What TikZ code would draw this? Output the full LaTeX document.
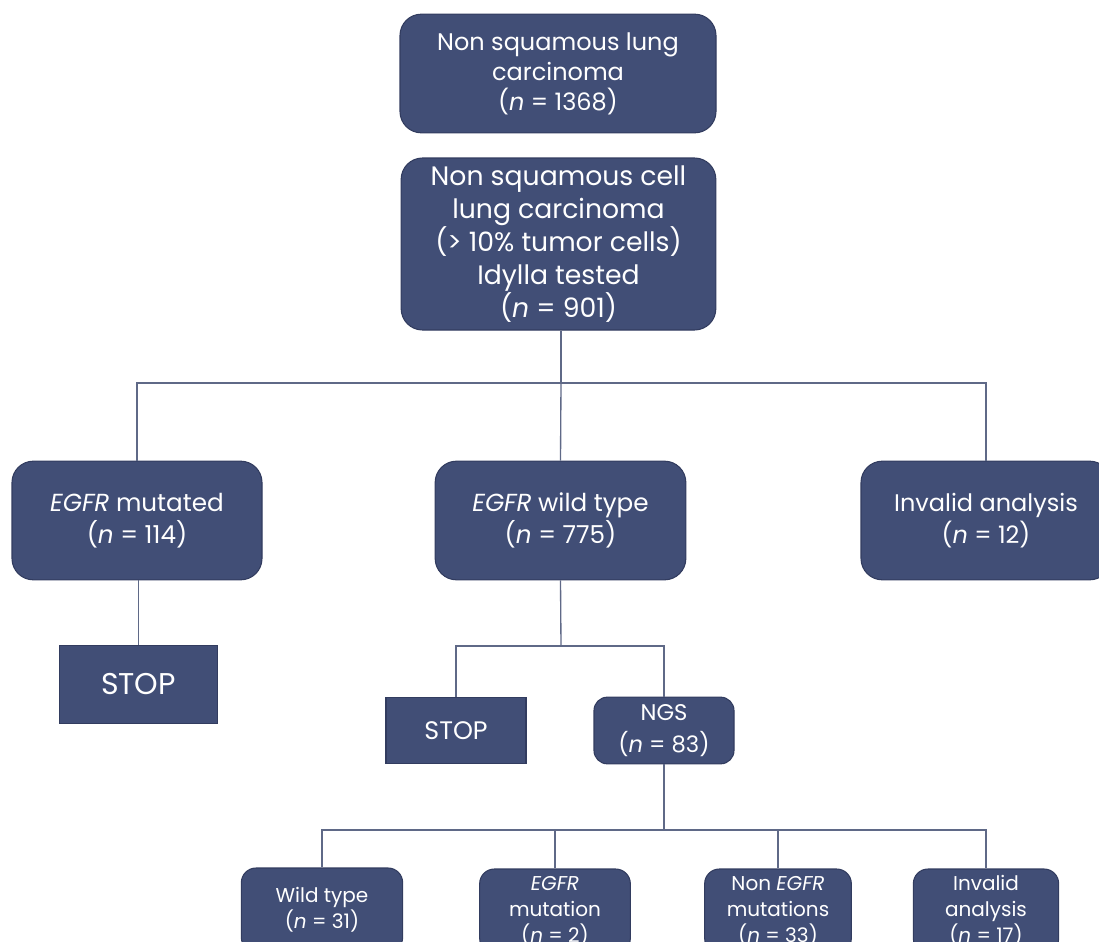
\documentclass[tikz,border=0pt]{standalone}
\usepackage{fontspec}
\setmainfont{Poppins}
\definecolor{boxblue}{RGB}{65,78,118}
\definecolor{boxline}{RGB}{50,60,95}
\definecolor{linegray}{RGB}{95,105,135}
\begin{document}
\begin{tikzpicture}[x=0.75pt,y=-0.75pt,
    box/.style={draw=boxline,fill=boxblue,text=white,align=center,
        rounded corners=16pt,inner sep=0pt,line width=0.8pt},
    stopbox/.style={box,rounded corners=0pt},
    smallbox/.style={box,rounded corners=10pt,minimum width=105pt,minimum height=50pt},
    leafbox/.style={box,rounded corners=11pt,minimum height=63pt,
        font=\fontsize{15}{19.5}\selectfont},
    conn/.style={draw=linegray,line width=1pt}]
    \useasboundingbox (0,0) rectangle (1099,942);
    % first two levels
    \node[box,minimum width=237pt,minimum height=89pt,
        font=\fontsize{18}{22.5}\selectfont] (all) at (558,73.5)
        {Non squamous lung\\carcinoma\\(\textit{n} = 1368)};
    \node[box,minimum width=236pt,minimum height=129pt,
        font=\fontsize{20}{24.75}\selectfont] (idylla) at (558.5,244)
        {Non squamous cell\\lung carcinoma\\(> 10\% tumor cells)\\Idylla tested\\(\textit{n} = 901)};
    % idylla results
    \node[box,minimum width=187.5pt,minimum height=89pt,
        font=\fontsize{18.5}{24}\selectfont] (mut) at (137,520.5)
        {\textit{EGFR} mutated\\(\textit{n} = 114)};
    \node[box,minimum width=188pt,minimum height=89pt,
        font=\fontsize{18.5}{24}\selectfont] (wt) at (560.5,520.5)
        {\textit{EGFR} wild type\\(\textit{n} = 775)};
    \node[box,minimum width=187.5pt,minimum height=89pt,
        font=\fontsize{18}{24}\selectfont] (inv) at (986,520.5)
        {Invalid analysis\\(\textit{n} = 12)};
    \node[stopbox,minimum width=119pt,minimum height=59pt,
        font=\fontsize{22.5}{24}\selectfont] (stopa) at (138.5,684.5) {STOP};
    \node[stopbox,minimum width=105pt,minimum height=50pt,
        font=\fontsize{19}{24}\selectfont] (stopb) at (456,730.5) {STOP};
    \node[smallbox,font=\fontsize{17}{24}\selectfont] (ngs) at (664,730.5)
        {NGS\\(\textit{n} = 83)};
    % NGS results
    \node[leafbox,minimum width=121pt] (ngswt) at (322,910)
        {Wild type\\(\textit{n} = 31)};
    \node[leafbox,minimum width=113pt] (ngsmut) at (555,911)
        {\textit{EGFR}\\mutation\\(\textit{n} = 2)};
    \node[leafbox,minimum width=110pt] (ngsoth) at (778,911)
        {Non \textit{EGFR}\\mutations\\(\textit{n} = 33)};
    \node[leafbox,minimum width=109pt] (ngsinv) at (986,911)
        {Invalid\\analysis\\(\textit{n} = 17)};
    % connectors
    \coordinate (ja) at (561,383);
    \coordinate (jb) at (561,646);
    \coordinate (jc) at (664,830);
    \draw[conn] (ja |- idylla.south) -- (ja);
    \draw[conn] (mut.north) |- (ja) -| (inv.north);
    \draw[conn] (ja) -- (wt.north);
    \draw[conn] (stopa.north |- mut.south) -- (stopa.north);
    \draw[conn] (wt.south) -- (jb);
    \draw[conn] (stopb.north) |- (jb) -| (ngs.north);
    \draw[conn] (ngs.south) -- (jc);
    \draw[conn] (ngswt.north) |- (jc) -| (ngsinv.north);
    \foreach \n in {ngsmut,ngsoth}
    {
        \draw[conn] (\n.north) -- (\n.north |- jc);
    }
\end{tikzpicture}
\end{document}
